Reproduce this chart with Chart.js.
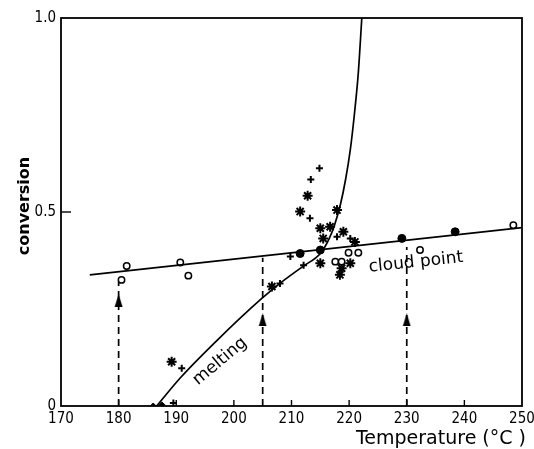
<!DOCTYPE html>
<html>
<head>
<meta charset="utf-8">
<script src="https://cdn.jsdelivr.net/npm/chart.js@4.4.1/dist/chart.umd.min.js"></script>
<style>
  html, body { margin: 0; padding: 0; background: #fff; }
  #wrap { width: 534px; height: 449px; position: relative; }
</style>
</head>
<body>
<div id="wrap"><canvas id="chart"></canvas></div>
<script>
const xTicks = [170, 180, 190, 200, 210, 220, 230, 240, 250];
const yTicks = [0, 0.5, 1.0];

// cloud point line and melting curve
const cloudT = [175, 250];
const cloudC = [0.338, 0.460];
const meltT = [186.6, 190.8, 197, 204.6, 208, 212, 215, 216.5, 217.5, 218.5, 219.4, 220.2, 220.9, 221.6, 222.2];
const meltC = [0, 0.074, 0.168, 0.274, 0.316, 0.36, 0.393, 0.43, 0.468, 0.52, 0.585, 0.66, 0.75, 0.86, 1.0];

// measured points
const openT = [180.5, 181.4, 190.7, 192.1, 217.6, 218.7, 219.9, 221.6, 232.3, 248.5];
const openC = [0.325, 0.361, 0.370, 0.336, 0.372, 0.372, 0.395, 0.395, 0.402, 0.466];
const filledT = [211.5, 215, 229.15, 238.4];
const filledC = [0.393, 0.402, 0.432, 0.449];
const starT = [189.2, 206.6, 211.5, 212.8, 217.9, 215, 216.7, 219, 215.5, 221, 218.7, 220.2, 218.4, 215];
const starC = [0.114, 0.308, 0.501, 0.542, 0.505, 0.458, 0.462, 0.449, 0.432, 0.423, 0.355, 0.368, 0.338, 0.368];
const crossT = [189.5, 190.95, 208, 209.8, 212.1, 213.2, 213.35, 214.85, 217.9, 220.2];
const crossC = [0.008, 0.097, 0.316, 0.385, 0.363, 0.484, 0.584, 0.613, 0.436, 0.432];
const diamondT = [186, 187.5];
const diamondC = [0, 0.003];

// dashed markers with arrows
const dashT = [180, 205, 230];
const dashTop = [0.32, 0.382, 0.41];
const arrowC = [0.272, 0.222, 0.222];

// text notes
const noteText = ['melting', 'cloud point'];
const noteT = [197.6, 231.6];
const noteC = [0.115, 0.37];
const noteAngle = [-40, -6];

function pts(xs, ys) {
    return xs.map((v, i) => ({x: v, y: ys[i]}));
}

function arrowHead() {
    const c = document.createElement('canvas');
    c.width = 9;
    c.height = 13;
    const g = c.getContext('2d');
    g.fillStyle = '#000';
    g.beginPath();
    g.moveTo(4.5, 0);
    g.lineTo(0.5, 13);
    g.lineTo(8.5, 13);
    g.closePath();
    g.fill();
    return c;
}

const lineStyle = {type: 'line', borderColor: '#000', borderWidth: 1.7, pointRadius: 0, fill: false};

const datasets = [
    Object.assign({data: pts(cloudT, cloudC)}, lineStyle),
    Object.assign({data: pts(meltT, meltC), cubicInterpolationMode: 'monotone'}, lineStyle)
];
dashT.forEach((t, i) => {
    datasets.push(Object.assign({data: pts([t, t], [0, dashTop[i]]), borderDash: [7, 5]}, lineStyle));
});
datasets.push(
    {data: pts(openT, openC), pointStyle: 'circle', pointRadius: 3.2, borderWidth: 1.5, borderColor: '#000', backgroundColor: '#fff'},
    {data: pts(filledT, filledC), pointStyle: 'circle', pointRadius: 4, borderWidth: 1, borderColor: '#000', backgroundColor: '#000'},
    {data: pts(starT, starC), pointStyle: 'star', pointRadius: 5, borderWidth: 2, borderColor: '#000', backgroundColor: '#000'},
    {data: pts(crossT, crossC), pointStyle: 'cross', pointRadius: 3.5, borderWidth: 2, borderColor: '#000', backgroundColor: '#000'},
    {data: pts(diamondT, diamondC), pointStyle: 'rectRot', pointRadius: 3, borderWidth: 1, borderColor: '#000', backgroundColor: '#000'},
    {data: pts(dashT, arrowC), pointStyle: arrowHead(), pointRadius: 6, borderColor: '#000', backgroundColor: '#000'}
);

const framePlugin = {
    id: 'frame',
    afterDatasetsDraw(chart) {
        const {ctx, chartArea: a, scales: {x, y}} = chart;
        ctx.save();
        ctx.strokeStyle = '#000';
        ctx.lineWidth = 1.8;
        ctx.strokeRect(a.left, a.top, a.right - a.left, a.bottom - a.top);
        ctx.lineWidth = 1.4;
        xTicks.slice(1, -1).forEach(v => {
            const px = x.getPixelForValue(v);
            ctx.beginPath();
            ctx.moveTo(px, a.bottom);
            ctx.lineTo(px, a.bottom - 6);
            ctx.stroke();
        });
        const py = y.getPixelForValue(0.5);
        ctx.beginPath();
        ctx.moveTo(a.left, py);
        ctx.lineTo(a.left + 10, py);
        ctx.stroke();

        ctx.fillStyle = '#000';
        ctx.textAlign = 'center';
        ctx.textBaseline = 'middle';
        noteText.forEach((s, i) => {
            ctx.save();
            ctx.font = '17px "DejaVu Sans"';
            ctx.translate(x.getPixelForValue(noteT[i]), y.getPixelForValue(noteC[i]));
            ctx.rotate(noteAngle[i] * Math.PI / 180);
            ctx.fillText(s, 0, 0);
            ctx.restore();
        });

        // axis titles
        ctx.save();
        ctx.font = 'bold 16px "DejaVu Sans"';
        ctx.translate(25, 206);
        ctx.rotate(-Math.PI / 2);
        ctx.fillText('conversion', 0, 0);
        ctx.restore();

        ctx.font = '19px "DejaVu Sans"';
        ctx.textAlign = 'right';
        ctx.fillText('Temperature (°C )', 526, 439);
        ctx.restore();
    }
};

new Chart(document.getElementById('chart'), {
    type: 'scatter',
    data: {datasets: datasets},
    options: {
        responsive: true,
        maintainAspectRatio: false,
        animation: false,
        layout: {padding: {top: 18, right: 12, left: 0, bottom: 0}},
        plugins: {legend: {display: false}, tooltip: {enabled: false}},
        scales: {
            x: {
                type: 'linear', min: 170, max: 250,
                afterBuildTicks: s => { s.ticks = xTicks.map(v => ({value: v})); },
                afterFit: s => { s.height = 43; s.paddingLeft = 0; s.paddingRight = 0; },
                ticks: {color: '#000', padding: 4, maxRotation: 0, autoSkip: false,
                    font: {family: '"DejaVu Sans Condensed", "DejaVu Sans"', size: 15}},
                grid: {display: false, drawTicks: false},
                border: {display: false}
            },
            y: {
                type: 'linear', min: 0, max: 1,
                afterBuildTicks: s => { s.ticks = yTicks.map(v => ({value: v})); },
                afterFit: s => { s.width = 61; },
                ticks: {color: '#000', padding: 5,
                    callback: v => v === 0 ? '0' : v.toFixed(1),
                    font: {family: '"DejaVu Sans Condensed", "DejaVu Sans"', size: 15}},
                grid: {display: false, drawTicks: false},
                border: {display: false}
            }
        }
    },
    plugins: [framePlugin]
});
</script>
</body>
</html>
